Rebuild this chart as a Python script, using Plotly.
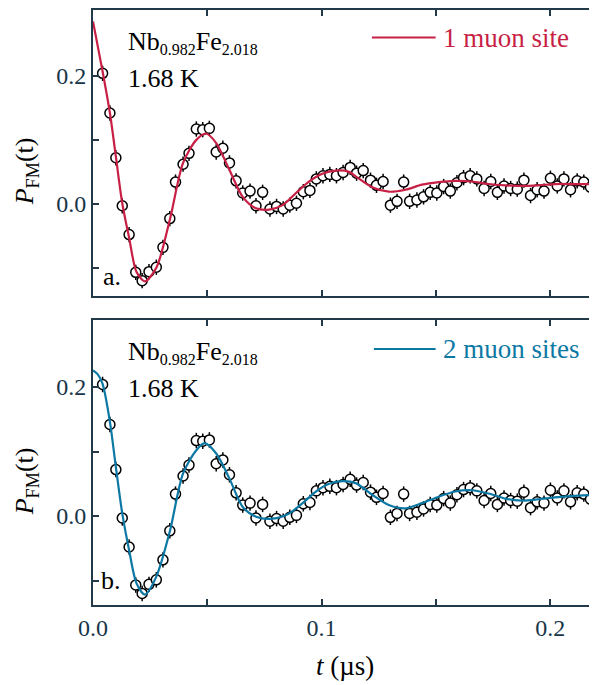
import plotly.graph_objects as go

# ---- data ----
t_data = [0.0042, 0.0074, 0.0100, 0.0128, 0.0158, 0.0187, 0.0215, 0.0245, 0.0277, 0.0306,
          0.0336, 0.0361, 0.0394, 0.0420, 0.0452, 0.0480, 0.0509, 0.0539, 0.0568, 0.0597,
          0.0626, 0.0655, 0.0687, 0.0713, 0.0742, 0.0774, 0.0803, 0.0832, 0.0861, 0.0890,
          0.0920, 0.0949, 0.0977, 0.1006, 0.1036, 0.1065, 0.1094, 0.1125, 0.1153, 0.1182,
          0.1214, 0.1240, 0.1269, 0.1301, 0.1330, 0.1359, 0.1385, 0.1417, 0.1446, 0.1475,
          0.1504, 0.1534, 0.1563, 0.1592, 0.1621, 0.1650, 0.1679, 0.1711, 0.1740, 0.1769,
          0.1798, 0.1827, 0.1856, 0.1885, 0.1914, 0.1943, 0.1973, 0.2001, 0.2031, 0.2060,
          0.2089, 0.2118, 0.2147, 0.2176]
p_data = [0.204, 0.142, 0.072, -0.003, -0.048, -0.107, -0.120, -0.106, -0.099, -0.068,
          -0.023, 0.034, 0.062, 0.079, 0.117, 0.116, 0.118, 0.081, 0.087, 0.064,
          0.036, 0.017, 0.020, -0.003, 0.018, -0.008, -0.004, -0.008, -0.002, 0.001,
          0.019, 0.021, 0.039, 0.044, 0.046, 0.044, 0.049, 0.057, 0.048, 0.052,
          0.037, 0.029, 0.035, -0.002, 0.004, 0.034, 0.004, 0.006, 0.011, 0.018,
          0.017, 0.027, 0.020, 0.033, 0.041, 0.044, 0.039, 0.024, 0.035, 0.018,
          0.028, 0.024, 0.023, 0.037, 0.013, 0.022, 0.020, 0.040, 0.028, 0.039,
          0.022, 0.036, 0.034, 0.026]
p_err = [0.012] * len(t_data)

# fit curve, 1 muon site
t_fit1 = [0.0, 0.0042, 0.0074, 0.0100, 0.0128, 0.0158, 0.0190, 0.0227, 0.0277, 0.0336,
          0.0394, 0.0452, 0.0495, 0.0539, 0.0597, 0.0655, 0.0713, 0.0771, 0.0829, 0.0888,
          0.0946, 0.1003, 0.1062, 0.1120, 0.1149, 0.1221, 0.1294, 0.1367, 0.1439, 0.1512,
          0.1585, 0.1657, 0.1730, 0.1803, 0.1875, 0.1948, 0.2020, 0.2093, 0.2196]
p_fit1 = [0.285, 0.207, 0.142, 0.074, 0.001, -0.053, -0.106, -0.121, -0.100, -0.025,
          0.064, 0.100, 0.110, 0.095, 0.053, 0.011, -0.007, -0.009, -0.002, 0.017,
          0.035, 0.047, 0.052, 0.050, 0.043, 0.026, 0.019, 0.022, 0.030, 0.034,
          0.036, 0.035, 0.031, 0.029, 0.028, 0.029, 0.031, 0.031, 0.031]

# fit curve, 2 muon sites
t_fit2 = [0.0, 0.0020, 0.0042, 0.0074, 0.0100, 0.0128, 0.0158, 0.0190, 0.0227, 0.0277,
          0.0336, 0.0394, 0.0452, 0.0488, 0.0539, 0.0597, 0.0655, 0.0713, 0.0786, 0.0858,
          0.0917, 0.0975, 0.1033, 0.1091, 0.1149, 0.1221, 0.1294, 0.1367, 0.1439, 0.1512,
          0.1585, 0.1657, 0.1730, 0.1803, 0.1875, 0.1948, 0.2020, 0.2093, 0.2196]
p_fit2 = [0.226, 0.220, 0.205, 0.146, 0.076, 0.004, -0.053, -0.104, -0.122, -0.094,
          -0.024, 0.066, 0.102, 0.113, 0.097, 0.058, 0.014, -0.001, -0.004, 0.004,
          0.020, 0.038, 0.050, 0.054, 0.051, 0.033, 0.017, 0.012, 0.020, 0.030,
          0.038, 0.040, 0.035, 0.027, 0.024, 0.026, 0.029, 0.031, 0.033]

x_tickvals = [0.0, 0.1, 0.2]
x_ticktext = ["0.0", "0.1", "0.2"]
x_minor = [0.05, 0.15]
y_tickvals = [0.0, 0.2]
y_ticktext = ["0.0", "0.2"]
y_minor = [-0.1, 0.1]

RED = "#c81f45"
BLUE = "#0c78a4"
AX = "#22394a"
TXT = "#173548"
FONT = "'Times New Roman', 'Liberation Serif', 'DejaVu Serif', serif"

# the page body adds an 8px margin; size the figure so the plot lands where the
# reference has it (plot area: x 93..597, y 10..605 in window pixels)
BODY = 8
W, H = 597 - BODY, 685 - BODY
ML, MR, MT, MB = 93 - BODY, 0, 10 - BODY, 80
PW, PH = W - ML - MR, H - MT - MB


def px(x):
    return (x - 93) / PW


def py(y):
    return (605 - y) / PH


fig = go.Figure()

for i, (tf, pf, col) in enumerate([(t_fit1, p_fit1, RED), (t_fit2, p_fit2, BLUE)]):
    xa = "x" if i == 0 else "x2"
    ya = "y" if i == 0 else "y2"
    fig.add_trace(go.Scatter(
        x=t_data, y=p_data, xaxis=xa, yaxis=ya, mode="markers",
        marker=dict(symbol="circle", size=10, color="white",
                    line=dict(color="black", width=1.5)),
        error_y=dict(type="data", array=p_err, visible=True, color="black",
                     thickness=1.5, width=0),
        showlegend=False, hoverinfo="skip"))
    fig.add_trace(go.Scatter(
        x=tf, y=pf, xaxis=xa, yaxis=ya, mode="lines",
        line=dict(color=col, width=2.2, shape="spline", smoothing=0.8),
        showlegend=False, hoverinfo="skip"))

axis_common = dict(showline=True, linewidth=2, linecolor=AX, mirror="ticks",
                   ticks="inside", ticklen=6, tickwidth=1.5, tickcolor=AX,
                   showgrid=False, zeroline=False,
                   tickfont=dict(family=FONT, size=24, color=TXT))


def minor(vals):
    return dict(tickmode="array", tickvals=vals, ticks="inside", ticklen=6,
                tickwidth=1.5, tickcolor=AX, showgrid=False)


fig.update_layout(
    width=W, height=H,
    margin=dict(l=ML, r=MR, t=MT, b=MB),
    paper_bgcolor="white", plot_bgcolor="white",
    font=dict(family=FONT),
    xaxis=dict(domain=[0, 1], anchor="y", range=[0, 0.2196],
               tickvals=x_tickvals, ticktext=x_ticktext, showticklabels=False,
               minor=minor(x_minor), **axis_common),
    yaxis=dict(domain=[py(296), 1], anchor="x", range=[-0.144, 0.303],
               tickvals=y_tickvals, ticktext=y_ticktext, minor=minor(y_minor),
               **axis_common),
    xaxis2=dict(domain=[0, 1], anchor="y2", range=[0, 0.2196],
                tickvals=x_tickvals, ticktext=x_ticktext, minor=minor(x_minor),
                **axis_common),
    yaxis2=dict(domain=[0, py(320)], anchor="x2", range=[-0.138, 0.304],
                tickvals=y_tickvals, ticktext=y_ticktext, minor=minor(y_minor),
                **axis_common),
)

ann = []
sub = '<span style="font-size:16px">%s</span>'
formula = "Nb<sub>" + sub % "0.982" + "</sub>Fe<sub>" + sub % "2.018" + "</sub>"
for off in (0, 310):
    ann.append(dict(x=px(126), y=py(42 + off), text=formula, xanchor="left", yanchor="middle"))
    ann.append(dict(x=px(126), y=py(78 + off), text="1.68 K", xanchor="left", yanchor="middle"))
    ann.append(dict(x=px(26), y=py(171 + off), text="<i>P</i><sub>FM</sub>(t)",
                    textangle=-90, xanchor="center", yanchor="middle"))
ann.append(dict(x=px(101), y=py(276), text="a.", xanchor="left", yanchor="middle"))
ann.append(dict(x=px(99), y=py(580), text="b.", xanchor="left", yanchor="middle"))
ann.append(dict(x=px(442), y=py(38), text="1 muon site", xanchor="left", yanchor="middle",
                font=dict(family=FONT, size=27, color=RED)))
ann.append(dict(x=px(442), y=py(349), text="2 muon sites", xanchor="left", yanchor="middle",
                font=dict(family=FONT, size=27, color=BLUE)))
ann.append(dict(x=px(346), y=py(666), text="<i>t</i> (\u00b5s)", xanchor="center", yanchor="middle",
                font=dict(family=FONT, size=27, color="black")))

for a in ann:
    a.setdefault("font", dict(family=FONT, size=26, color="black"))
    a.update(xref="paper", yref="paper", showarrow=False)
fig.update_layout(annotations=ann)

fig.add_shape(type="line", xref="paper", yref="paper", x0=px(373), x1=px(437),
              y0=py(37.5), y1=py(37.5), line=dict(color=RED, width=2.2))
fig.add_shape(type="line", xref="paper", yref="paper", x0=px(375), x1=px(437),
              y0=py(349), y1=py(349), line=dict(color=BLUE, width=2.2))

fig.write_html("out.html")
